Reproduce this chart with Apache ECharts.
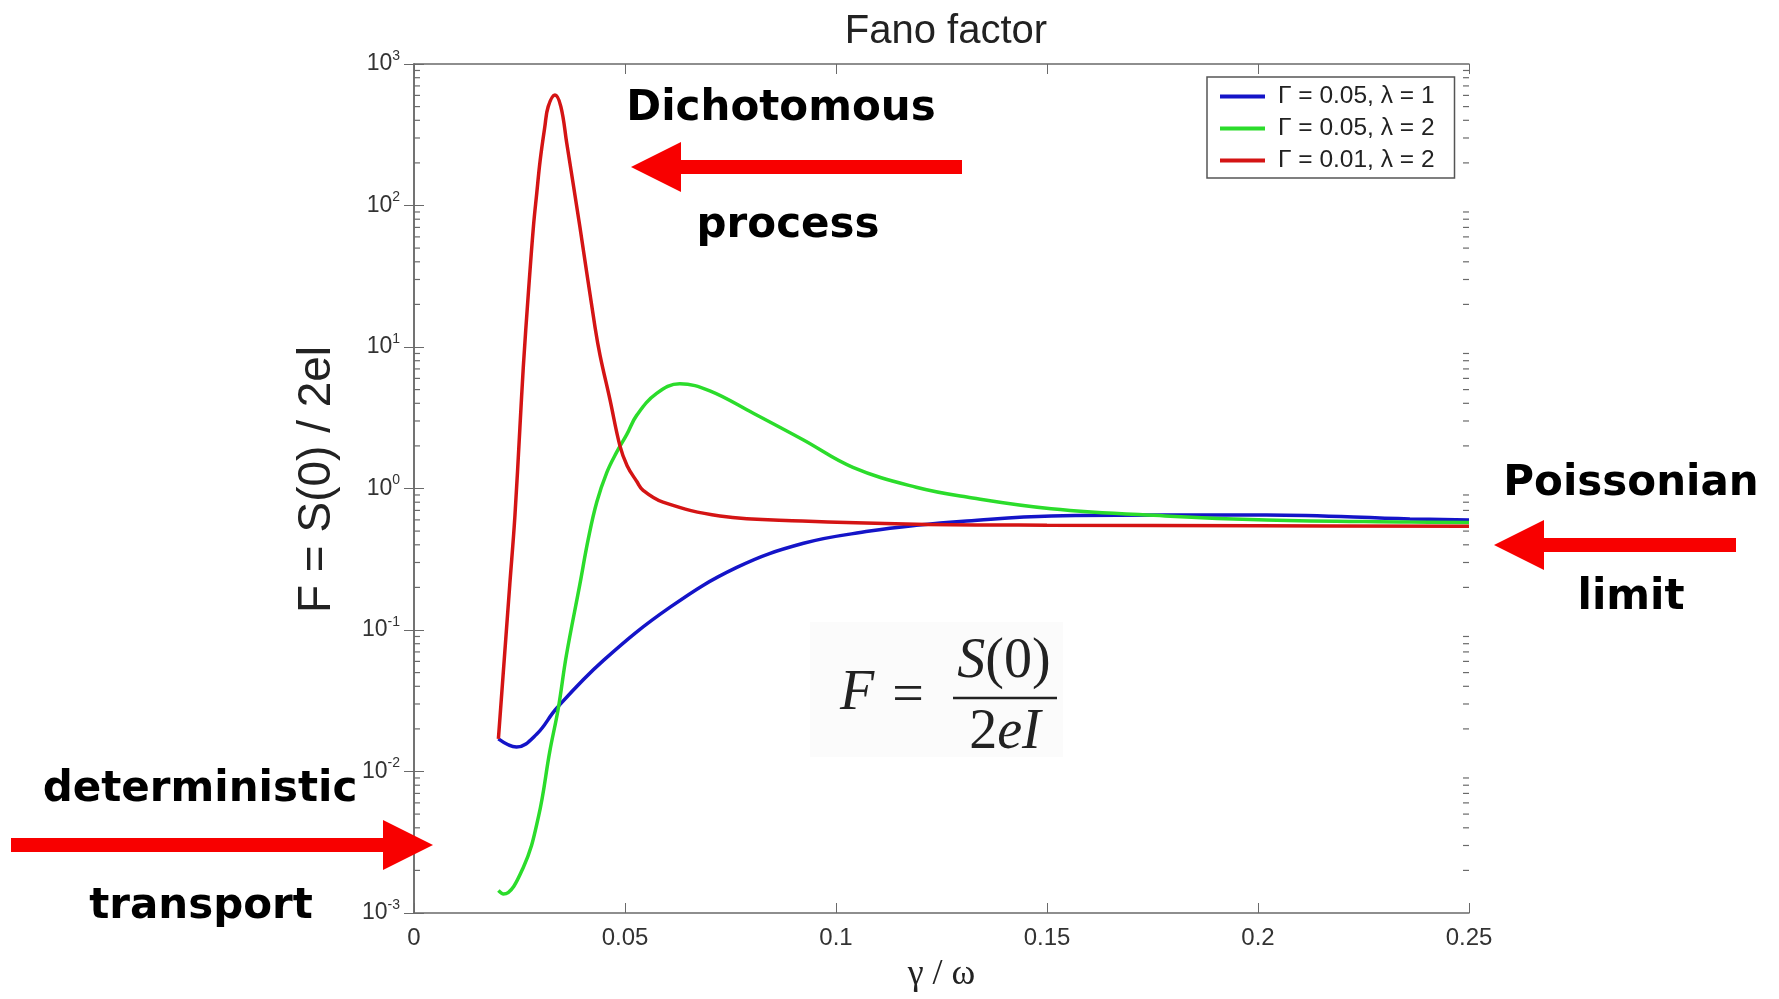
<!DOCTYPE html>
<html>
<head>
<meta charset="utf-8">
<title>Fano factor</title>
<script src="https://cdn.jsdelivr.net/npm/echarts@6.0.0/dist/echarts.min.js"></script>
<style>
  html, body { margin: 0; padding: 0; background: #fff; }
  #chart { width: 1779px; height: 999px; }
</style>
</head>
<body>
<div id="chart"></div>
<script>
// values (x = gamma/omega, y = Fano factor)
var blueX = [0.020, 0.0243, 0.0291, 0.0338, 0.0449, 0.0607, 0.0765, 0.0923, 0.108, 0.119, 0.131, 0.151, 0.178, 0.202, 0.236, 0.25];
var blueY = [0.017, 0.0149, 0.0184, 0.028, 0.061, 0.145, 0.277, 0.41, 0.50, 0.55, 0.59, 0.64, 0.65, 0.65, 0.61, 0.60];

var greenX = [0.020, 0.0212, 0.0259, 0.0295, 0.0322, 0.0342, 0.0361, 0.0393, 0.0413, 0.0433, 0.0457, 0.048, 0.0504, 0.0528, 0.0575, 0.063, 0.0701, 0.0804, 0.0923, 0.104, 0.119, 0.131, 0.151, 0.178, 0.202, 0.236, 0.25];
var greenY = [0.00144, 0.00136, 0.0021, 0.0048, 0.014, 0.028, 0.066, 0.21, 0.44, 0.8, 1.3, 1.8, 2.4, 3.3, 4.7, 5.5, 4.9, 3.4, 2.2, 1.41, 1.02, 0.87, 0.72, 0.64, 0.60, 0.58, 0.575];

var redX = [0.020, 0.0227, 0.0239, 0.0251, 0.0259, 0.0271, 0.0283, 0.0291, 0.0299, 0.031, 0.0318, 0.0334, 0.0348, 0.0362, 0.0393, 0.0429, 0.0441, 0.0464, 0.0488, 0.0505, 0.0528, 0.0543, 0.059, 0.0725, 0.092, 0.119, 0.15, 0.2, 0.25];
var redY = [0.017, 0.21, 0.63, 2.7, 7.2, 24, 71, 123, 209, 360, 500, 603, 500, 275, 71, 13.8, 8.7, 4.3, 2.0, 1.45, 1.12, 0.97, 0.8, 0.64, 0.59, 0.56, 0.55, 0.545, 0.54];

var seriesNames = ['\u0393 = 0.05, \u03bb = 1', '\u0393 = 0.05, \u03bb = 2', '\u0393 = 0.01, \u03bb = 2'];
var seriesColors = ['#1414c8', '#2bdc2b', '#d41414'];

var xMin = 0, xMax = 0.25, xStep = 0.05;
var yMin = 0.001, yMax = 1000;
var decades = [-3, -2, -1, 0, 1, 2];
var minorMults = [2, 3, 4, 5, 6, 7, 8, 9];

function zip(xs, ys) {
  return xs.map(function (x, i) { return [x, ys[i]]; });
}

var minorTicks = [];
decades.forEach(function (e) {
  minorMults.forEach(function (m) {
    minorTicks.push([0, m * Math.pow(10, e)]);
  });
});

var axisGray = '#6a6a6a';
var labelFont = 'Liberation Sans, Arial, sans-serif';

// annotation arrow (polygon), tip at (tx, ty), tail at ex
function arrow(tx, ty, ex) {
  var d = ex > tx ? 1 : -1;
  var hl = 50, hh = 25, st = 7;
  return {
    type: 'polygon',
    shape: {
      points: [
        [tx, ty], [tx + d * hl, ty - hh], [tx + d * hl, ty - st], [ex, ty - st],
        [ex, ty + st], [tx + d * hl, ty + st], [tx + d * hl, ty + hh]
      ]
    },
    style: { fill: '#f80000' },
    z: 10
  };
}

function label(text, x, y) {
  return {
    type: 'text',
    x: x, y: y + 5, z: 10,
    style: {
      text: text,
      font: 'bold 42px "DejaVu Sans", Verdana, sans-serif',
      fill: '#000',
      align: 'center', verticalAlign: 'middle'
    }
  };
}

var serifIt = 'italic 56px "Liberation Serif", serif';
var serif = '56px "Liberation Serif", serif';

var chart = echarts.init(document.getElementById('chart'));

var lineSeries = [[blueX, blueY], [greenX, greenY], [redX, redY]].map(function (d, i) {
  return {
    name: seriesNames[i],
    type: 'line',
    data: zip(d[0], d[1]),
    symbol: 'none',
    smooth: 0.4,
    lineStyle: { color: seriesColors[i], width: 3.5 },
    itemStyle: { color: seriesColors[i] },
    z: 3
  };
});

chart.setOption({
  backgroundColor: '#fff',
  animation: false,
  title: {
    text: 'Fano factor',
    left: 941,
    textAlign: 'center',
    top: 7,
    textStyle: { fontFamily: labelFont, fontSize: 40, fontWeight: 'normal', color: '#222' }
  },
  legend: {
    data: seriesNames,
    orient: 'vertical',
    left: 1207,
    top: 77,
    icon: 'rect',
    itemWidth: 45,
    itemHeight: 4,
    itemGap: 7,
    padding: [7, 20, 5, 13],
    backgroundColor: '#fff',
    borderColor: '#555',
    borderWidth: 1.5,
    textStyle: { fontFamily: labelFont, fontSize: 24.5, color: '#222', padding: [0, 0, 0, 8], lineHeight: 23 }
  },
  grid: { left: 414, right: 310, top: 64, bottom: 86 },
  xAxis: [{
    type: 'value',
    min: xMin, max: xMax, interval: xStep,
    name: '\u03b3 / \u03c9',
    nameLocation: 'middle',
    nameGap: 44,
    nameTextStyle: { fontFamily: 'Liberation Serif, serif', fontSize: 36, color: '#222' },
    axisLine: { lineStyle: { color: axisGray, width: 1.5 } },
    axisTick: { inside: true, length: 10, lineStyle: { color: axisGray } },
    axisLabel: { fontFamily: labelFont, fontSize: 24, color: '#333', margin: 13 },
    splitLine: { show: false }
  }, {
    type: 'value', position: 'top',
    min: xMin, max: xMax, interval: xStep,
    axisLine: { lineStyle: { color: axisGray, width: 1.5 } },
    axisTick: { inside: true, length: 10, lineStyle: { color: axisGray } },
    axisLabel: { show: false },
    splitLine: { show: false }
  }],
  yAxis: [{
    type: 'log', logBase: 10,
    min: yMin, max: yMax, splitNumber: 6,
    name: 'F = S(0) / 2el',
    nameLocation: 'middle',
    nameGap: 74,
    nameTextStyle: { fontFamily: labelFont, fontSize: 46, color: '#222', padding: [0, 0, 0, 18] },
    axisLine: { lineStyle: { color: axisGray, width: 1.5 } },
    axisTick: { inside: true, length: 10, lineStyle: { color: axisGray } },
    axisLabel: {
      margin: 14,
      formatter: function (v) {
        return '{b|10}{s|' + Math.round(Math.log10(v)) + '}';
      },
      rich: {
        b: { fontFamily: labelFont, fontSize: 23, color: '#333', lineHeight: 30 },
        s: { fontFamily: labelFont, fontSize: 14, color: '#333', verticalAlign: 'top', lineHeight: 14 }
      }
    },
    splitLine: { show: false }
  }, {
    type: 'log', logBase: 10, position: 'right',
    min: yMin, max: yMax, splitNumber: 6,
    axisLine: { lineStyle: { color: axisGray, width: 1.5 } },
    axisTick: { inside: true, length: 10, lineStyle: { color: axisGray } },
    axisLabel: { show: false },
    splitLine: { show: false }
  }],
  series: lineSeries.concat([{
    name: 'minor ticks',
    type: 'custom',
    data: minorTicks,
    silent: true,
    z: 1,
    renderItem: function (params, api) {
      var v = api.value(1);
      var a = api.coord([xMin, v]);
      var b = api.coord([xMax, v]);
      var st = { stroke: axisGray, lineWidth: 1.2 };
      return {
        type: 'group',
        children: [
          { type: 'line', shape: { x1: a[0], y1: a[1], x2: a[0] + 6, y2: a[1] }, style: st },
          { type: 'line', shape: { x1: b[0], y1: b[1], x2: b[0] - 6, y2: b[1] }, style: st }
        ]
      };
    }
  }]),
  graphic: [
    // faint box behind the formula
    { type: 'rect', shape: { x: 810, y: 622, width: 253, height: 135 }, style: { fill: '#fbfbfb' }, z: 0 },
    { type: 'text', x: 857, y: 694, z: 10, style: { text: 'F', font: serifIt, fill: '#222', align: 'center', verticalAlign: 'middle' } },
    { type: 'text', x: 908, y: 697, z: 10, style: { text: '=', font: serif, fill: '#222', align: 'center', verticalAlign: 'middle' } },
    { type: 'text', x: 1004, y: 662, z: 10, style: {
        text: '{i|S}{n|(0)}', align: 'center', verticalAlign: 'middle',
        rich: { i: { font: serifIt, fill: '#222' }, n: { font: serif, fill: '#222' } }
      } },
    { type: 'line', shape: { x1: 953, y1: 698, x2: 1057, y2: 698 }, style: { stroke: '#222', lineWidth: 2.5 }, z: 10 },
    { type: 'text', x: 1005, y: 733, z: 10, style: {
        text: '{n|2}{i|eI}', align: 'center', verticalAlign: 'middle',
        rich: { i: { font: serifIt, fill: '#222' }, n: { font: serif, fill: '#222' } }
      } },
    arrow(631, 167, 962),
    arrow(1494, 545, 1736),
    arrow(433, 845, 11),
    label('Dichotomous', 781, 104),
    label('process', 788, 221),
    label('Poissonian', 1631, 479),
    label('limit', 1631, 593),
    label('deterministic', 200, 785),
    label('transport', 201, 902)
  ]
});
</script>
</body>
</html>
